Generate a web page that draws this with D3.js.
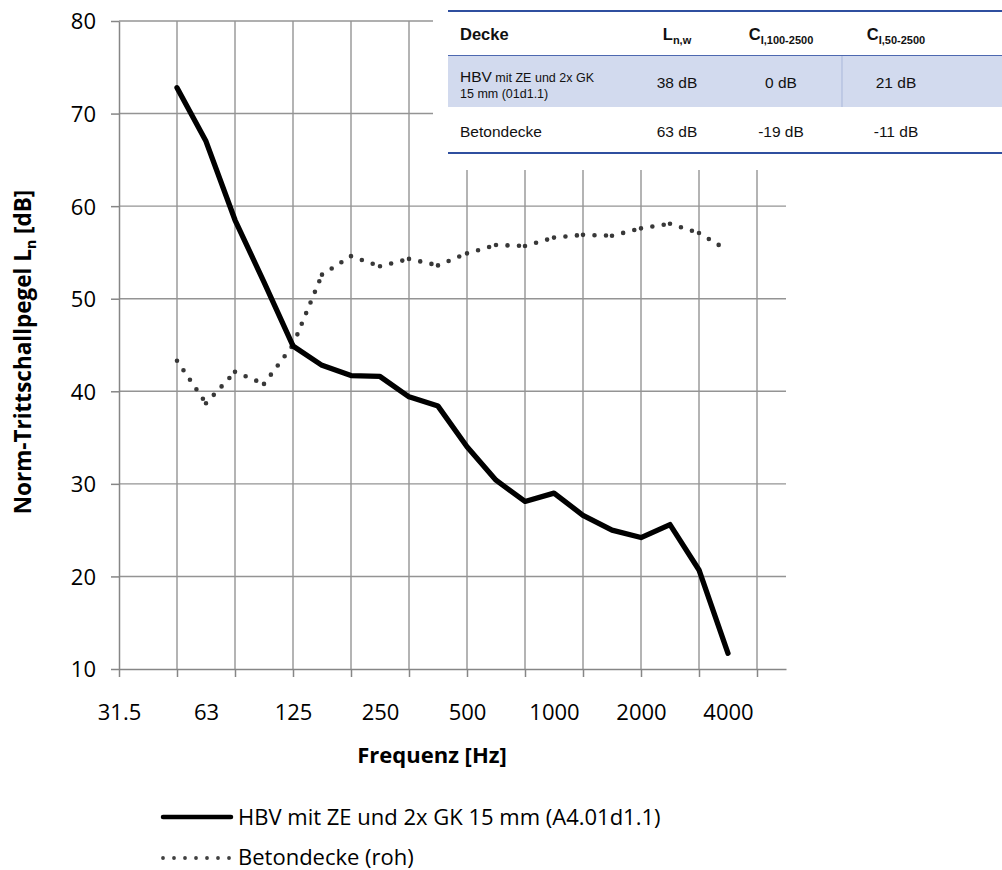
<!DOCTYPE html>
<html>
<head>
<meta charset="utf-8">
<script src="https://cdn.jsdelivr.net/npm/d3@7"></script>
<style>
  body { margin: 0; background: #fff; }
  svg { display: block; }
  .axis text { font-family: "Open Sans", sans-serif; font-size: 22px; fill: #000; }
  .tbl text { font-family: "Liberation Sans", Arial, sans-serif; fill: #111; }
</style>
</head>
<body>
<svg id="chart" width="1002" height="870"></svg>
<script>
// Third-octave band centre frequencies (category axis)
const bands = ["31.5","40","50","63","80","100","125","160","200","250","315","400",
               "500","630","800","1000","1250","1600","2000","2500","3150","4000","5000","6300"];
const labelBands = ["31.5","63","125","250","500","1000","2000","4000"];
const yTicks = [10, 20, 30, 40, 50, 60, 70, 80];

// Measured bands 50 Hz .. 4000 Hz
const measuredBands = bands.slice(2, 22);
// HBV mit ZE und 2x GK 15 mm (A4.01d1.1), L_n in dB
const hbvValues = [72.8, 67.0, 58.5, 51.8, 44.9, 42.8, 41.7, 41.6, 39.4, 38.4,
                   34.0, 30.4, 28.1, 29.0, 26.6, 25.0, 24.2, 25.6, 20.7, 11.7];
// Betondecke (roh), L_n in dB
const betonValues = [43.3, 38.7, 42.1, 40.8, 45.0, 52.6, 54.6, 53.5, 54.3, 53.6,
                     54.9, 55.8, 55.7, 56.6, 56.9, 56.8, 57.6, 58.1, 57.1, 55.2];

const legendLabels = ["HBV mit ZE und 2x GK 15 mm (A4.01d1.1)", "Betondecke (roh)"];

// Single-number ratings table
const tableDecke = ["HBV", "Betondecke"];
const tableLnw = [38, 63];
const tableC100 = [0, -19];
const tableC50 = [21, -11];

const svg = d3.select("#chart");
const x = d3.scalePoint().domain(bands).range([119, 786]);
const y = d3.scaleLinear().domain([10, 80]).range([669, 21]);

const gridColor = "#949494";
const axisColor = "#868686";

// Gridlines
const grid = svg.append("g");
grid.selectAll(".hg").data(yTicks.slice(1)).join("line")
  .attr("x1", x.range()[0]).attr("x2", x.range()[1])
  .attr("y1", d => y(d)).attr("y2", d => y(d))
  .attr("stroke", gridColor).attr("stroke-width", 1.4);
grid.selectAll(".vg").data(bands.filter((d, i) => i % 2 === 0 && i > 0)).join("line")
  .attr("x1", d => x(d)).attr("x2", d => x(d))
  .attr("y1", y(80)).attr("y2", y(10))
  .attr("stroke", gridColor).attr("stroke-width", 1.4);

// Axes
const yAxis = svg.append("g").attr("class", "axis")
  .attr("transform", `translate(${x(bands[0])},0)`)
  .call(d3.axisLeft(y).tickValues(yTicks).tickSize(8).tickSizeOuter(0).tickPadding(15));
const xAxis = svg.append("g").attr("class", "axis")
  .attr("transform", `translate(0,${y(10)})`)
  .call(d3.axisBottom(x).tickValues(bands.filter((d, i) => i % 2 === 0)).tickSize(8).tickSizeOuter(0).tickFormat(""));
const xLabels = svg.append("g").attr("class", "axis")
  .attr("transform", `translate(0,${y(10)})`)
  .call(d3.axisBottom(x).tickValues(labelBands).tickSize(0).tickPadding(35));
xLabels.select(".domain").remove();
[yAxis, xAxis].forEach(g => {
  g.select(".domain").attr("stroke", axisColor).attr("stroke-width", 1.5);
  g.selectAll(".tick line").attr("stroke", axisColor).attr("stroke-width", 1.5);
});
yAxis.selectAll(".tick text").attr("dy", "0.36em");

// Axis titles
svg.append("text")
  .attr("x", 432).attr("y", 763)
  .attr("text-anchor", "middle")
  .style("font-family", "'Open Sans', sans-serif").style("font-size", "22px").style("font-weight", "bold")
  .text("Frequenz [Hz]");

const yTitle = svg.append("text")
  .attr("transform", "translate(31,352) rotate(-90)")
  .attr("text-anchor", "middle")
  .style("font-family", "'Open Sans', sans-serif").style("font-size", "22.5px").style("font-weight", "bold");
yTitle.append("tspan").text("Norm-Trittschallpegel L");
yTitle.append("tspan").attr("dy", 5).style("font-size", "14px").text("n");
yTitle.append("tspan").attr("dy", -5).text(" [dB]");

// Data series
const hbv = measuredBands.map((b, i) => ({ band: b, v: hbvValues[i] }));
const beton = measuredBands.map((b, i) => ({ band: b, v: betonValues[i] }));
const line = d3.line().x(d => x(d.band)).y(d => y(d.v));

// Dotted series: each segment restarts the dot pattern
const segs = d3.pairs(beton);
svg.append("g").selectAll("path").data(segs).join("path")
  .attr("d", d => line(d))
  .attr("fill", "none")
  .attr("stroke", "#383838")
  .attr("stroke-width", 4.6)
  .attr("stroke-linecap", "round")
  .attr("stroke-dasharray", "0 11.5");

svg.append("path")
  .datum(hbv)
  .attr("d", line)
  .attr("fill", "none")
  .attr("stroke", "#000")
  .attr("stroke-width", 5.3)
  .attr("stroke-linejoin", "round")
  .attr("stroke-linecap", "round");

// Legend
const legend = svg.append("g");
legend.append("line").attr("x1", 163).attr("x2", 231).attr("y1", 817).attr("y2", 817)
  .attr("stroke", "#000").attr("stroke-width", 4.5).attr("stroke-linecap", "round");
legend.append("line").attr("x1", 163).attr("x2", 232).attr("y1", 858).attr("y2", 858)
  .attr("stroke", "#404040").attr("stroke-width", 3.8).attr("stroke-linecap", "round")
  .attr("stroke-dasharray", "0 11");
legend.selectAll("text").data(legendLabels).join("text")
  .attr("x", 238).attr("y", (d, i) => 825 + i * 40)
  .style("font-family", "'Open Sans', sans-serif").style("font-size", "22px")
  .text(d => d);

// Ratings table
const tbl = svg.append("g").attr("class", "tbl");
tbl.append("rect").attr("x", 433).attr("y", 0).attr("width", 569).attr("height", 170).attr("fill", "#fff");
tbl.append("rect").attr("x", 448).attr("y", 55).attr("width", 554).attr("height", 52).attr("fill", "#d2daee");
tbl.append("line").attr("x1", 842).attr("x2", 842).attr("y1", 55).attr("y2", 107)
  .attr("stroke", "#a9b7da").attr("stroke-width", 1);
tbl.append("line").attr("x1", 448).attr("x2", 1002).attr("y1", 11).attr("y2", 11)
  .attr("stroke", "#2f4f9f").attr("stroke-width", 1.8);
tbl.append("line").attr("x1", 448).attr("x2", 1002).attr("y1", 55.5).attr("y2", 55.5)
  .attr("stroke", "#4d68b0").attr("stroke-width", 1.2);
tbl.append("line").attr("x1", 448).attr("x2", 1002).attr("y1", 153).attr("y2", 153)
  .attr("stroke", "#2f4f9f").attr("stroke-width", 1.8);

const colX = [677, 781, 896];
// Header
tbl.append("text").attr("x", 460).attr("y", 40).style("font-size", "16.5px").style("font-weight", "bold").text("Decke");
const headMain = ["L", "C", "C"];
const headSub = ["n,w", "I,100-2500", "I,50-2500"];
headMain.forEach((m, i) => {
  const t = tbl.append("text").attr("x", colX[i]).attr("y", 40).attr("text-anchor", "middle")
    .style("font-weight", "bold");
  t.append("tspan").style("font-size", "16.5px").text(m);
  t.append("tspan").attr("dy", 4).style("font-size", "11px").text(headSub[i]);
});

// Row 1
const r1 = tbl.append("text").attr("x", 460).attr("y", 82);
r1.append("tspan").style("font-size", "15.5px").text(tableDecke[0]);
r1.append("tspan").style("font-size", "12.5px").text(" mit ZE und 2x GK");
tbl.append("text").attr("x", 460).attr("y", 98).style("font-size", "12.5px").text("15 mm (01d1.1)");
// Row 2
tbl.append("text").attr("x", 460).attr("y", 137).style("font-size", "15.5px").text(tableDecke[1]);

const rowY = [88, 137];
[tableLnw, tableC100, tableC50].forEach((col, ci) => {
  col.forEach((v, ri) => {
    tbl.append("text").attr("x", colX[ci]).attr("y", rowY[ri]).attr("text-anchor", "middle")
      .style("font-size", "15.5px").text(`${v} dB`);
  });
});
</script>
</body>
</html>
